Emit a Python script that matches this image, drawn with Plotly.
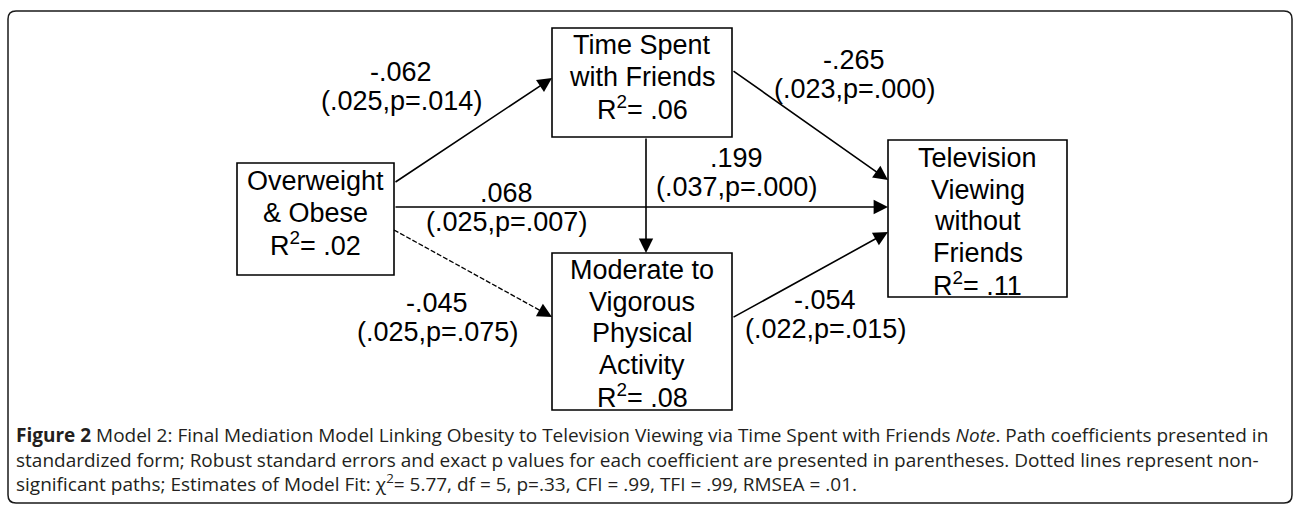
import plotly.graph_objects as go

# ---------------- data ----------------
node_lines = [
    ["Overweight", "& Obese"],
    ["Time Spent", "with Friends"],
    ["Moderate to", "Vigorous", "Physical", "Activity"],
    ["Television", "Viewing", "without", "Friends"],
]
node_r2 = [".02", ".06", ".08", ".11"]

path_from = [0, 0, 0, 1, 1, 2]
path_to = [1, 3, 2, 2, 3, 3]
path_coef = ["-.062", ".068", "-.045", ".199", "-.265", "-.054"]
path_se = [".025", ".025", ".025", ".037", ".023", ".022"]
path_p = [".014", ".007", ".075", ".000", ".000", ".015"]
path_significant = [True, True, False, True, True, True]

caption_lines = [
    "<b>Figure 2</b> Model 2: Final Mediation Model Linking Obesity to Television Viewing via Time Spent with Friends <i>Note</i>. Path coefficients presented in",
    "standardized form; Robust standard errors and exact p values for each coefficient are presented in parentheses. Dotted lines represent non-",
    "significant paths; Estimates of Model Fit: \u03c7<sup>2</sup>= 5.77, df = 5, p=.33, CFI = .99, TFI = .99, RMSEA = .01.",
]

# ---------------- layout geometry ----------------
W, H = 1293, 506
node_box = [(237, 163, 394, 275), (552, 28, 732, 137), (552, 253, 732, 410), (888, 140, 1067, 297)]
node_first_y = [181, 45, 270, 158]
node_line_gap = 31.6
path_start = [(394, 183), (394, 207), (394, 230), (646, 137), (732, 70), (732, 318)]
path_end = [(552, 78), (888, 207), (552, 317), (646, 253), (888, 180), (888, 232)]
label_pos = [(401, 72), (506, 193), (437, 303), (736, 158), (854, 60), (825, 300)]
label_gap = 29
caption_x = 14
caption_y = 459

DIAG_FONT = dict(family="Liberation Sans, Arial, sans-serif", size=27, color="#000000")
CAP_FONT = dict(family="Open Sans, sans-serif", size=19, color="#231f20")
LINE_W = 1.6

fig = go.Figure()
shapes = []
annotations = []

# outer rounded frame
L, T, R, B, r = 8, 11, 1292, 503, 8
frame = (f"M {L+r},{T} L {R-r},{T} Q {R},{T} {R},{T+r} L {R},{B-r} Q {R},{B} {R-r},{B} "
         f"L {L+r},{B} Q {L},{B} {L},{B-r} L {L},{T+r} Q {L},{T} {L+r},{T} Z")
shapes.append(dict(type="path", path=frame, xref="x", yref="y",
                   line=dict(color="#1a1a1a", width=1.5), fillcolor="rgba(0,0,0,0)"))

# node boxes + text
for i, (x0, y0, x1, y1) in enumerate(node_box):
    shapes.append(dict(type="rect", x0=x0, y0=y0, x1=x1, y1=y1, xref="x", yref="y",
                       line=dict(color="#000000", width=LINE_W), fillcolor="white"))
    cx = (x0 + x1) / 2
    lines = node_lines[i] + [f"R<sup>2</sup>= {node_r2[i]}"]
    for j, txt in enumerate(lines):
        annotations.append(dict(x=cx, y=node_first_y[i] + j * node_line_gap, xref="x", yref="y",
                                text=txt, showarrow=False, font=DIAG_FONT,
                                xanchor="center", yanchor="middle"))

# paths
for k in range(len(path_coef)):
    (sx, sy), (ex, ey) = path_start[k], path_end[k]
    if path_significant[k]:
        annotations.append(dict(x=ex, y=ey, ax=sx, ay=sy, xref="x", yref="y", axref="x", ayref="y",
                                text="", showarrow=True, arrowhead=2, arrowsize=1.8,
                                arrowwidth=LINE_W, arrowcolor="#000000", standoff=0, startstandoff=0))
    else:
        dx, dy = ex - sx, ey - sy
        n = (dx * dx + dy * dy) ** 0.5
        ux, uy = dx / n, dy / n
        shapes.append(dict(type="line", x0=sx, y0=sy, x1=ex - 10 * ux, y1=ey - 10 * uy,
                           xref="x", yref="y", line=dict(color="#000000", width=1.3, dash="5px,2px")))
        annotations.append(dict(x=ex, y=ey, ax=ex - 16 * ux, ay=ey - 16 * uy, xref="x", yref="y",
                                axref="x", ayref="y", text="", showarrow=True, arrowhead=2,
                                arrowsize=1.8, arrowwidth=LINE_W, arrowcolor="#000000",
                                standoff=0, startstandoff=0))
    lx, ly = label_pos[k]
    annotations.append(dict(x=lx, y=ly, xref="x", yref="y", text=path_coef[k], showarrow=False,
                            font=DIAG_FONT, xanchor="center", yanchor="middle"))
    annotations.append(dict(x=lx, y=ly + label_gap, xref="x", yref="y",
                            text=f"({path_se[k]},p={path_p[k]})", showarrow=False,
                            font=DIAG_FONT, xanchor="center", yanchor="middle"))

# caption (one multi-line text block)
annotations.append(dict(x=caption_x, y=caption_y, xref="x", yref="y",
                        text="<br>".join(caption_lines), showarrow=False, align="left",
                        font=CAP_FONT, xanchor="left", yanchor="middle"))

fig.update_layout(
    width=W, height=H, margin=dict(l=0, r=0, t=0, b=0),
    paper_bgcolor="white", plot_bgcolor="white",
    xaxis=dict(range=[0, W], visible=False, fixedrange=True),
    yaxis=dict(range=[H, 0], visible=False, fixedrange=True),
    shapes=shapes, annotations=annotations, showlegend=False,
)

fig.write_html("out.html", config={"displayModeBar": False},
               post_script="document.body.style.margin='0';document.body.style.overflow='hidden';")
